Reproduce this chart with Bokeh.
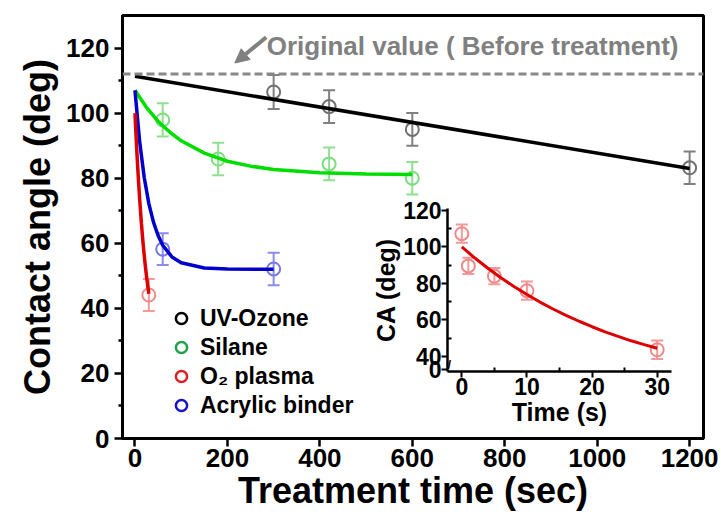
from bokeh.plotting import figure
from bokeh.layouts import column
from bokeh.models import (Range1d, FixedTicker, ColumnDataSource, Whisker, TeeHead,
                          Span, Label, Arrow, NormalHead, Legend, LegendItem)
from bokeh.embed import file_html
from bokeh.resources import INLINE

# ---------------- data ----------------
uv_t = [300, 420, 600, 1200]
uv_ca = [106.5, 102.0, 95.0, 83.2]
uv_err = [5.2, 5.0, 5.0, 5.0]

sil_t = [60, 180, 420, 600]
sil_ca = [97.9, 85.9, 84.4, 80.0]
sil_err = [5.1, 5.0, 5.0, 5.0]

o2_t = [30]
o2_ca = [44.1]
o2_err = [4.9]

acr_t = [60, 300]
acr_ca = [58.2, 52.1]
acr_err = [4.9, 5.0]

# fitted curves
uv_fit_t = [0, 1200]
uv_fit_ca = [111.3, 83.0]
sil_fit_t = [0, 25, 50, 75, 100, 150, 200, 250, 300, 400, 500, 600]
sil_fit_ca = [107.0, 101.7, 97.5, 94.2, 91.5, 87.7, 85.2, 83.7, 82.7, 81.7, 81.3, 81.1]
acr_fit_t = [0, 10, 20, 30, 40, 50, 60, 80, 100, 150, 200, 300]
acr_fit_ca = [107.0, 91.4, 80.2, 72.2, 66.5, 62.4, 59.4, 55.8, 54.0, 52.4, 52.1, 52.0]
o2_fit_t = [0, 2, 4, 6, 8, 10, 12, 14, 16, 18, 20, 22, 24, 26, 28, 30]
o2_fit_ca = [100.0, 93.9, 88.3, 83.1, 78.3, 73.9, 69.8, 66.0, 62.5, 59.3, 56.3, 53.5,
             51.0, 48.6, 46.5, 44.5]

original_value = 112.0

# inset (O2 plasma, short times)
inset_t = [0, 1, 5, 10, 30]
inset_ca = [107.2, 89.6, 84.0, 76.0, 43.7]
inset_err = [5.0, 4.5, 4.5, 5.0, 5.0]

main_x_ticks = [0, 200, 400, 600, 800, 1000, 1200]
main_y_ticks = [0, 20, 40, 60, 80, 100, 120]
main_y_minor = [10, 30, 50, 70, 90, 110]
inset_x_ticks = [0, 10, 20, 30]
inset_x_minor = [5, 15, 25]
inset_y_ticks = [32.7, 40, 60, 80, 100, 120]
inset_y_labels = {32.7: "0"}
inset_y_minor = [50, 70, 90, 110]

labels = ["UV-Ozone", "Silane", "O\u2082 plasma", "Acrylic binder"]
legend_colors = ["#000000", "#22a04a", "#e02020", "#1515c8"]
legend_data = [(uv_t, uv_ca), (sil_t, sil_ca), (o2_t, o2_ca), (acr_t, acr_ca)]

FONT = "Liberation Sans"
W, H = 721, 525
BL, BR = 122, 18            # left / right borders (shared by both figures in the column)

# ---------------- main figure ----------------
p = figure(width=W, height=H, x_range=Range1d(-27, 1230), y_range=Range1d(0, 130),
           output_backend="svg", toolbar_location=None,
           min_border_left=BL, min_border_right=BR, min_border_top=15, min_border_bottom=87)
p.grid.visible = False
p.outline_line_color = "black"
p.outline_line_width = 3
p.background_fill_color = "white"

for ax in (p.xaxis[0], p.yaxis[0]):
    ax.axis_line_width = 3
    ax.major_tick_line_width = 2.5
    ax.minor_tick_line_width = 2.5
    ax.major_tick_in = 0
    ax.major_tick_out = 8
    ax.minor_tick_in = 0
    ax.minor_tick_out = 4
    ax.major_label_text_font = FONT
    ax.major_label_text_font_style = "bold"
    ax.major_label_text_font_size = "26px"
    ax.major_label_text_color = "black"
    ax.axis_label_text_font = FONT
    ax.axis_label_text_font_style = "bold"
    ax.axis_label_text_font_size = "36px"
    ax.axis_label_text_color = "black"

p.xaxis[0].ticker = FixedTicker(ticks=main_x_ticks)
p.xaxis[0].minor_tick_line_color = None
p.xaxis[0].major_label_standoff = 2
p.xaxis[0].axis_label_standoff = 0
p.xaxis[0].axis_label = "Treatment time (sec)"

p.yaxis[0].ticker = FixedTicker(ticks=main_y_ticks, minor_ticks=main_y_minor)
p.yaxis[0].major_label_standoff = 5
p.yaxis[0].axis_label_standoff = 5
p.yaxis[0].axis_label = "Contact angle (deg)"

# reference line and annotation
p.add_layout(Span(location=original_value, dimension="width", line_color="#888888",
                  line_width=3, line_dash="8 4"))
p.add_layout(Arrow(x_start=284, y_start=123.3, x_end=216, y_end=115.4,
                   line_color="#808080", line_width=4,
                   end=NormalHead(size=14, fill_color="#808080", line_color="#808080")))
p.add_layout(Label(x=285, y=120.7, text="Original value ( Before treatment)",
                   text_font=FONT, text_font_style="bold", text_font_size="26px",
                   text_color="#808080", text_baseline="alphabetic"))

series = [
    (uv_t, uv_ca, uv_err, "#707070", "#808080"),
    (sil_t, sil_ca, sil_err, "#7fdc7f", "#8fe08f"),
    (o2_t, o2_ca, o2_err, "#f08a8a", "#f29a9a"),
    (acr_t, acr_ca, acr_err, "#7a7ae6", "#8c8ce8"),
]
for t, ca, err, mcol, ecol in series:
    src = ColumnDataSource(dict(x=t, y=ca,
                                upper=[c + e for c, e in zip(ca, err)],
                                lower=[c - e for c, e in zip(ca, err)]))
    p.add_layout(Whisker(source=src, base="x", upper="upper", lower="lower",
                         dimension="height", line_color=ecol, line_width=2,
                         upper_head=TeeHead(size=12, line_color=ecol, line_width=2),
                         lower_head=TeeHead(size=12, line_color=ecol, line_width=2)))
    p.scatter("x", "y", source=src, marker="circle", size=13, fill_color=None,
              line_color=mcol, line_width=2)

p.line(uv_fit_t, uv_fit_ca, line_color="black", line_width=3.5)
p.line(sil_fit_t, sil_fit_ca, line_color="#00dd00", line_width=3.5)
p.line(acr_fit_t, acr_fit_ca, line_color="#0000cc", line_width=3.5)
p.line(o2_fit_t, o2_fit_ca, line_color="#dd0000", line_width=3.5)

# legend with saturated open circles (hidden renderers, shown only in the legend)
items = []
for lab, col, (lx, ly) in zip(labels, legend_colors, legend_data):
    r = p.scatter(lx, ly, marker="circle", size=13, fill_color=None, line_color=col,
                  line_width=2.5, visible=False)
    items.append(LegendItem(label=lab, renderers=[r]))
leg = Legend(items=items, location=(45, 19), orientation="vertical",
             label_text_font=FONT, label_text_font_style="bold",
             label_text_font_size="23px", label_text_color="black",
             glyph_width=28, glyph_height=28, label_height=28, label_standoff=5,
             spacing=1, padding=0, margin=0,
             border_line_color=None, background_fill_alpha=0)
p.add_layout(leg)

# ---------------- inset ----------------
FX, IY = 447, 192           # inset frame left edge / inset figure top on the page
T, B = 16, 60
FW, FH = 224, 163
inset = figure(frame_width=FW, frame_height=FH,
               x_range=Range1d(-2.2, 32.2), y_range=Range1d(31.8, 121),
               output_backend="svg", toolbar_location=None,
               min_border_left=BL, min_border_right=BR, min_border_top=T, min_border_bottom=B)
inset.grid.visible = False
inset.outline_line_color = None
inset.background_fill_color = None
inset.border_fill_color = None
for ax in (inset.xaxis[0], inset.yaxis[0]):
    ax.axis_line_width = 2.5
    ax.major_tick_line_width = 2
    ax.minor_tick_line_width = 2
    ax.major_tick_in = 0
    ax.major_tick_out = 6
    ax.minor_tick_in = 4
    ax.minor_tick_out = 0
    ax.major_label_text_font = FONT
    ax.major_label_text_font_style = "bold"
    ax.major_label_text_font_size = "23px"
    ax.major_label_text_color = "black"
    ax.axis_label_text_font = FONT
    ax.axis_label_text_font_style = "bold"
    ax.axis_label_text_font_size = "25px"
    ax.axis_label_text_color = "black"
    ax.major_label_standoff = 0
    ax.axis_label_standoff = 0
inset.xaxis[0].ticker = FixedTicker(ticks=inset_x_ticks, minor_ticks=inset_x_minor)
inset.xaxis[0].axis_label = "Time (s)"
inset.yaxis[0].ticker = FixedTicker(ticks=inset_y_ticks, minor_ticks=inset_y_minor)
inset.yaxis[0].major_label_overrides = inset_y_labels
inset.yaxis[0].axis_label = "CA (deg)"

# axis-break mark on the inset y axis
inset.add_layout(Label(x=-2.2, y=35.5, text="//", text_font=FONT, text_font_style="bold",
                       text_font_size="13px", text_align="center",
                       text_baseline="middle", text_color="black"))

isrc = ColumnDataSource(dict(x=inset_t, y=inset_ca,
                             upper=[c + e for c, e in zip(inset_ca, inset_err)],
                             lower=[c - e for c, e in zip(inset_ca, inset_err)]))
inset.add_layout(Whisker(source=isrc, base="x", upper="upper", lower="lower",
                         dimension="height", line_color="#f29a9a", line_width=2,
                         upper_head=TeeHead(size=12, line_color="#f29a9a", line_width=2),
                         lower_head=TeeHead(size=12, line_color="#f29a9a", line_width=2)))
inset.scatter("x", "y", source=isrc, marker="circle", size=13, fill_color=None,
              line_color="#f08a8a", line_width=2)
inset.line(o2_fit_t, o2_fit_ca, line_color="#dd0000", line_width=3)

inset.margin = (IY - H, 0, 0, FX - BL)

layout = column(p, inset, spacing=0)
open("out.html", "w").write(file_html(layout, INLINE))
